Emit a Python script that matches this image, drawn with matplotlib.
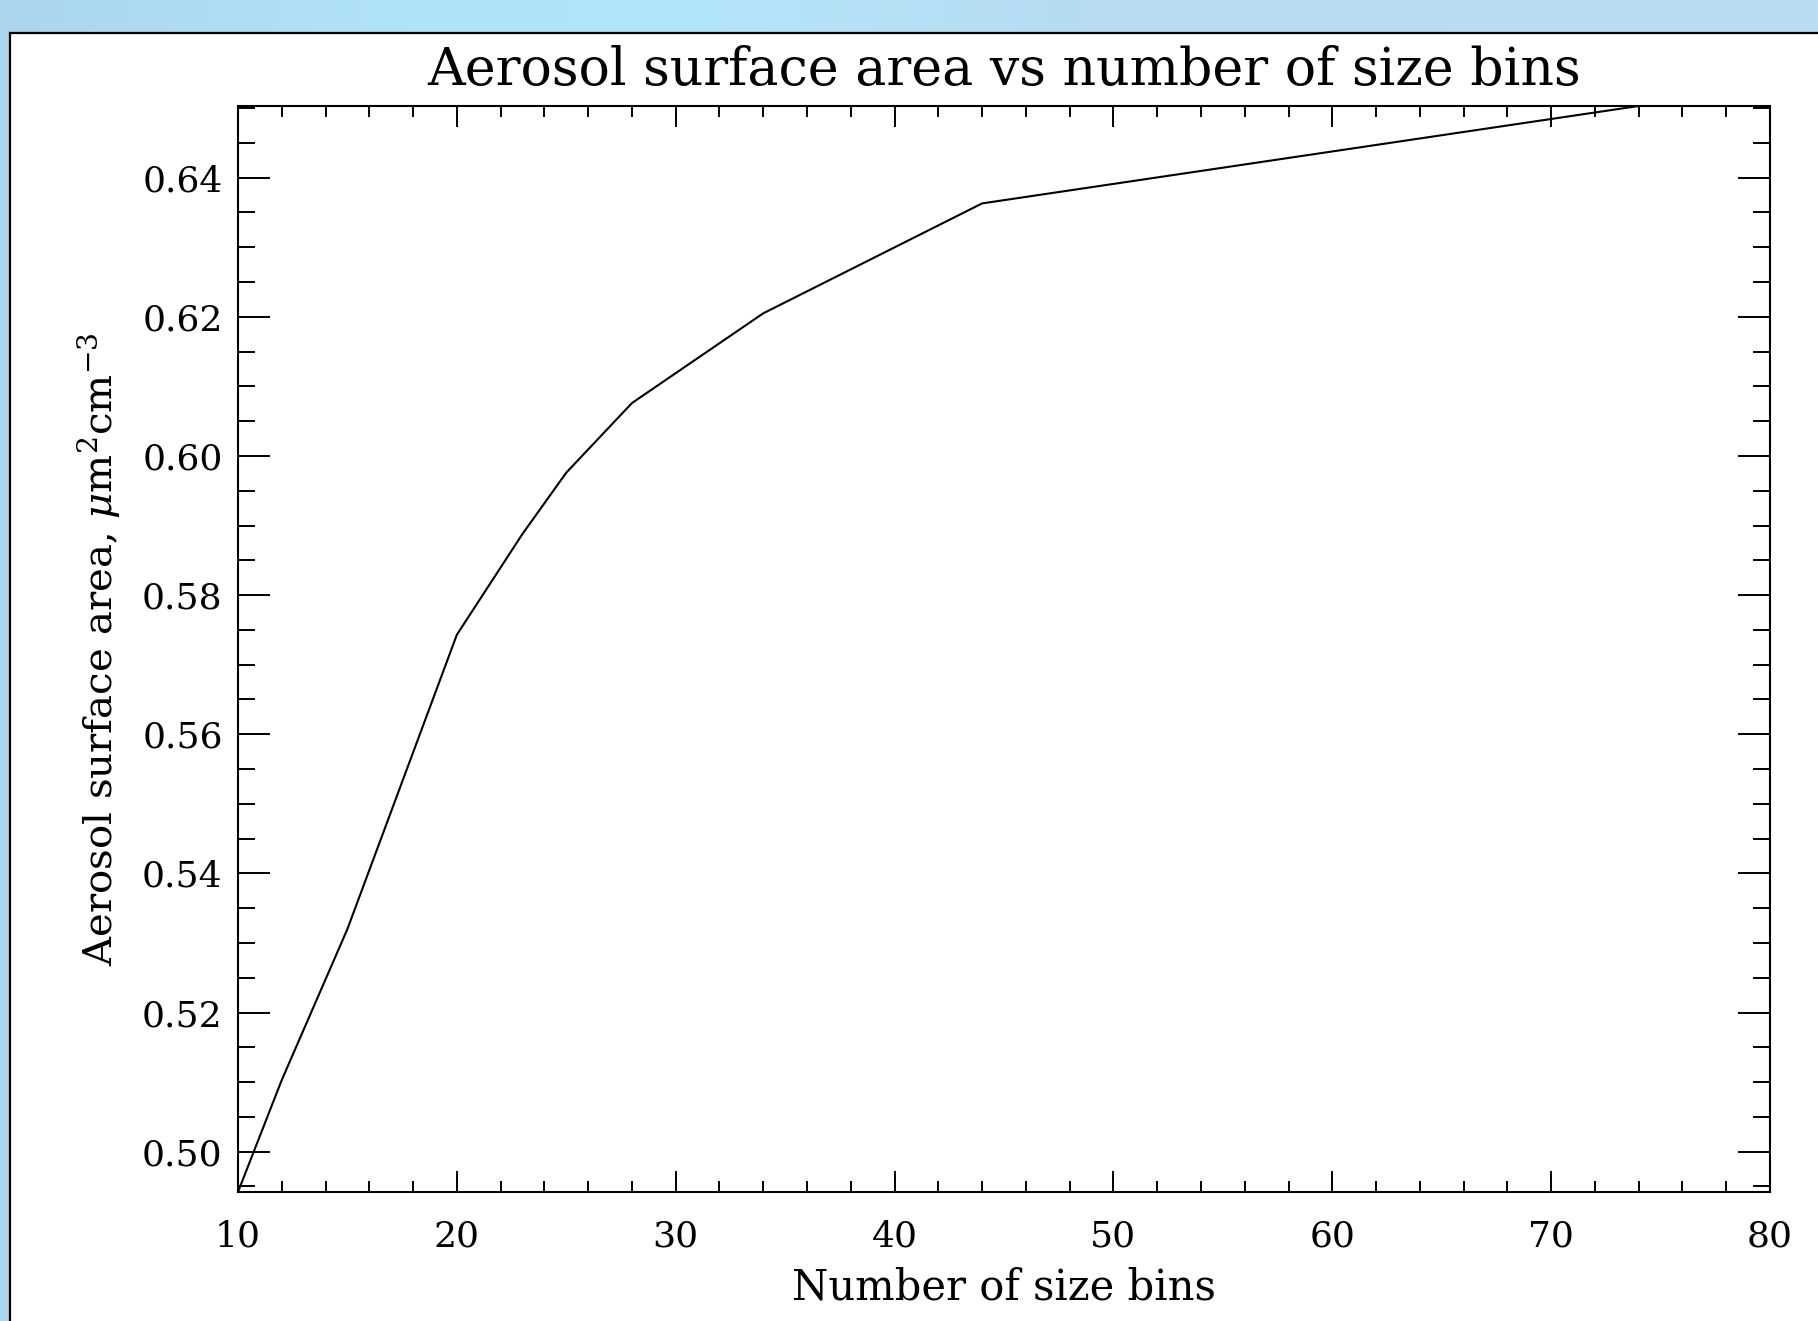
import numpy as np
import matplotlib.pyplot as plt
from matplotlib.patches import Rectangle
from matplotlib.ticker import MultipleLocator, FormatStrFormatter
from matplotlib.colors import LinearSegmentedColormap

plt.rcParams['mathtext.fontset'] = 'dejavuserif'

# data
n_bins = np.array([10, 12, 15, 20, 23, 25, 28, 34, 44, 74])
surf_area = np.array([0.4942, 0.5103, 0.5320, 0.5743, 0.5888, 0.5976,
                      0.6076, 0.6205, 0.6363, 0.6503])

title = 'Aerosol surface area vs number of size bins'
xlabel = 'Number of size bins'
ylabel = r'Aerosol surface area, $\mu$m$^2$cm$^{-3}$'

W, H = 1818, 1321
fig = plt.figure(figsize=(W / 100, H / 100), dpi=100)

#%% light blue backdrop with white panel
bg = fig.add_axes([0, 0, 1, 1], zorder=-2)
cmap = LinearSegmentedColormap.from_list(
    'bg', [(0, '#a9d6ee'), (0.22, '#b1e3f8'), (0.4, '#b3e5fa'),
           (0.6, '#b6dbf3'), (1, '#b9ddf5')])
bg.imshow(np.linspace(0, 1, 256)[None, :], cmap=cmap, aspect='auto',
          extent=[0, 1, 0, 1])
bg.add_patch(Rectangle((10 / W, -0.02), 1.1, 1 - 33 / H + 0.02,
                       transform=bg.transAxes, facecolor='white',
                       edgecolor='black', lw=1.6, clip_on=False))
bg.set_xlim(0, 1); bg.set_ylim(0, 1)
bg.axis('off')

#%% main plot
x0, x1, y0, y1 = 238, 1770, 106, 1192
ax = fig.add_axes([x0 / W, 1 - y1 / H, (x1 - x0) / W, (y1 - y0) / H])
ax.set_facecolor('none')
ax.plot(n_bins, surf_area, color='k', lw=1.5)
ax.set_xlim(10, 80)
ax.set_ylim(surf_area.min(), surf_area.max())

ax.xaxis.set_major_locator(MultipleLocator(10))
ax.xaxis.set_minor_locator(MultipleLocator(2))
ax.yaxis.set_major_locator(MultipleLocator(0.02))
ax.yaxis.set_minor_locator(MultipleLocator(0.005))
ax.yaxis.set_major_formatter(FormatStrFormatter('%.2f'))

ax.spines[:].set_linewidth(1.5)
ax.tick_params(which='both', direction='in', top=True, right=True,
               width=1.4, color='k')
ax.tick_params(axis='x', which='major', length=15, pad=20)
ax.tick_params(axis='x', which='minor', length=8)
ax.tick_params(axis='y', which='major', length=23, pad=11)
ax.tick_params(axis='y', which='minor', length=12)
for lab in ax.get_xticklabels() + ax.get_yticklabels():
    lab.set_family('DejaVu Serif')
    lab.set_fontsize(26)

fig.text((x0 + x1) / 2 / W, 1 - 85 / H, title, ha='center', va='baseline',
         fontsize=37.5, family='DejaVu Serif')
fig.text((x0 + x1) / 2 / W, 1 - 1300 / H, xlabel, ha='center',
         va='baseline', fontsize=30, family='DejaVu Serif')
fig.text(99 / W, 1 - (y0 + y1) / 2 / H, ylabel, ha='center', va='center',
         rotation=90, fontsize=29, family='DejaVu Serif')

fig.savefig('out.png', dpi=100)
